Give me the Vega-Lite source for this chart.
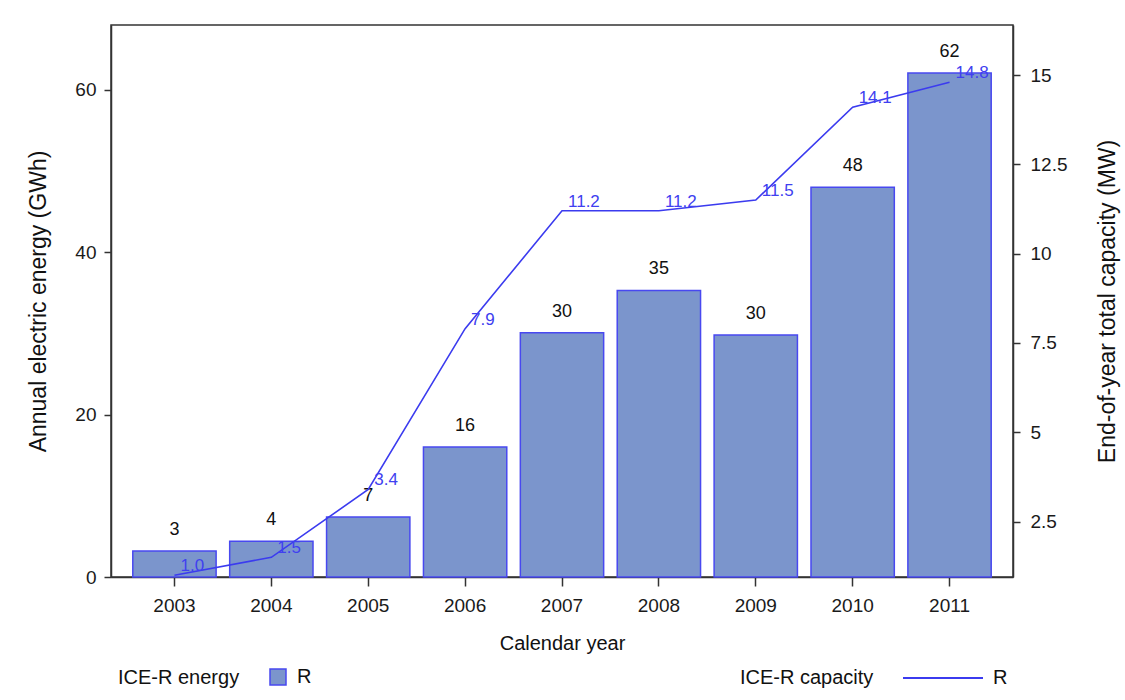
{
  "$schema": "https://vega.github.io/schema/vega-lite/v6.json",
  "autosize": {"type": "none"},
  "padding": {"left": 111, "top": 25, "right": 112, "bottom": 123},
  "width": 902,
  "height": 552,
  "background": "white",
  "config": {
    "view": {"stroke": "#333333", "strokeWidth": 1.5},
    "font": "Liberation Sans",
    "axis": {
      "grid": false,
      "domainColor": "#333333",
      "domainWidth": 1.5,
      "tickColor": "#333333",
      "tickWidth": 1.5,
      "labelColor": "#1a1a1a",
      "labelFont": "Liberation Sans",
      "labelFontSize": 19,
      "titleFont": "Liberation Sans",
      "titleFontWeight": "normal",
      "titleColor": "#111111"
    },
    "legend": {
      "titleFont": "Liberation Sans",
      "labelFont": "Liberation Sans",
      "titleFontWeight": "normal",
      "titleFontSize": 20,
      "labelFontSize": 20,
      "titleColor": "#111111",
      "labelColor": "#111111",
      "titleLimit": 300
    }
  },
  "data": {
    "values": [
      {"year": "2003", "energy": 3.2, "elabel": "3", "capacity": 1.0, "clabel": "1.0", "eseries": "R", "cseries": "R"},
      {"year": "2004", "energy": 4.4, "elabel": "4", "capacity": 1.5, "clabel": "1.5", "eseries": "R", "cseries": "R"},
      {"year": "2005", "energy": 7.4, "elabel": "7", "capacity": 3.4, "clabel": "3.4", "eseries": "R", "cseries": "R"},
      {"year": "2006", "energy": 16.0, "elabel": "16", "capacity": 7.9, "clabel": "7.9", "eseries": "R", "cseries": "R"},
      {"year": "2007", "energy": 30.1, "elabel": "30", "capacity": 11.2, "clabel": "11.2", "eseries": "R", "cseries": "R"},
      {"year": "2008", "energy": 35.3, "elabel": "35", "capacity": 11.2, "clabel": "11.2", "eseries": "R", "cseries": "R"},
      {"year": "2009", "energy": 29.8, "elabel": "30", "capacity": 11.5, "clabel": "11.5", "eseries": "R", "cseries": "R"},
      {"year": "2010", "energy": 48.0, "elabel": "48", "capacity": 14.1, "clabel": "14.1", "eseries": "R", "cseries": "R"},
      {"year": "2011", "energy": 62.1, "elabel": "62", "capacity": 14.8, "clabel": "14.8", "eseries": "R", "cseries": "R"}
    ]
  },
  "encoding": {
    "x": {
      "field": "year",
      "type": "nominal",
      "scale": {"paddingInner": 0.14, "paddingOuter": 0.225},
      "axis": {
        "title": "Calendar year",
        "titleFontSize": 20,
        "titlePadding": 18,
        "labelAngle": 0,
        "tickSize": 9,
        "labelPadding": 10
      }
    }
  },
  "layer": [
    {
      "encoding": {
        "y": {
          "field": "energy",
          "type": "quantitative",
          "scale": {"domain": [0, 68], "nice": false, "zero": false},
          "axis": {
            "orient": "left",
            "title": "Annual electric energy (GWh)",
            "titleFontSize": 23,
            "titlePadding": 24,
            "values": [0, 20, 40, 60],
            "tickSize": 7,
            "labelPadding": 8
          }
        }
      },
      "layer": [
        {
          "mark": {"type": "bar", "stroke": "#4848f0", "strokeWidth": 1.5},
          "encoding": {
            "fill": {
              "field": "eseries",
              "type": "nominal",
              "scale": {"domain": ["R"], "range": ["#7b95cc"]},
              "legend": {
                "title": "ICE-R energy",
                "orient": "none",
                "legendX": 7,
                "legendY": 642,
                "direction": "horizontal",
                "titleOrient": "left",
                "titleAnchor": "middle",
                "titleBaseline": "middle",
                "titlePadding": 28,
                "symbolType": "square",
                "symbolSize": 256,
                "symbolStrokeColor": "#4848f0",
                "symbolStrokeWidth": 1.5,
                "labelOffset": 9
              }
            }
          }
        },
        {
          "mark": {"type": "text", "baseline": "alphabetic", "dy": -16, "fontSize": 18, "color": "#111111", "font": "Liberation Sans"},
          "encoding": {"text": {"field": "elabel"}}
        }
      ]
    },
    {
      "encoding": {
        "y": {
          "field": "capacity",
          "type": "quantitative",
          "scale": {"domain": [0.95, 16.4], "nice": false, "zero": false},
          "axis": {
            "orient": "right",
            "title": "End-of-year total capacity (MW)",
            "titleFontSize": 23,
            "titleAngle": 270,
            "titleBaseline": "bottom",
            "titlePadding": 53,
            "values": [2.5, 5, 7.5, 10, 12.5, 15],
            "format": ".3~g",
            "tickSize": 7,
            "labelPadding": 10
          }
        }
      },
      "layer": [
        {
          "mark": {"type": "line", "strokeWidth": 1.6},
          "encoding": {
            "stroke": {
              "field": "cseries",
              "type": "nominal",
              "scale": {"domain": ["R"], "range": ["#3b3bef"]},
              "legend": {
                "title": "ICE-R capacity",
                "orient": "none",
                "legendX": 629,
                "legendY": 612,
                "direction": "horizontal",
                "titleOrient": "left",
                "titleAnchor": "middle",
                "titleBaseline": "line-top",
                "titleLineHeight": 30,
                "titlePadding": 28,
                "symbolType": "stroke",
                "symbolSize": 6400,
                "symbolStrokeWidth": 2,
                "labelOffset": 9
              }
            }
          }
        },
        {
          "mark": {"type": "text", "align": "left", "baseline": "alphabetic", "dx": 6, "dy": -4, "fontSize": 17, "color": "#4040f0", "font": "Liberation Sans"},
          "encoding": {"text": {"field": "clabel"}}
        }
      ]
    }
  ],
  "resolve": {
    "scale": {"y": "independent", "fill": "independent", "stroke": "independent"},
    "legend": {"fill": "independent", "stroke": "independent"}
  }
}
